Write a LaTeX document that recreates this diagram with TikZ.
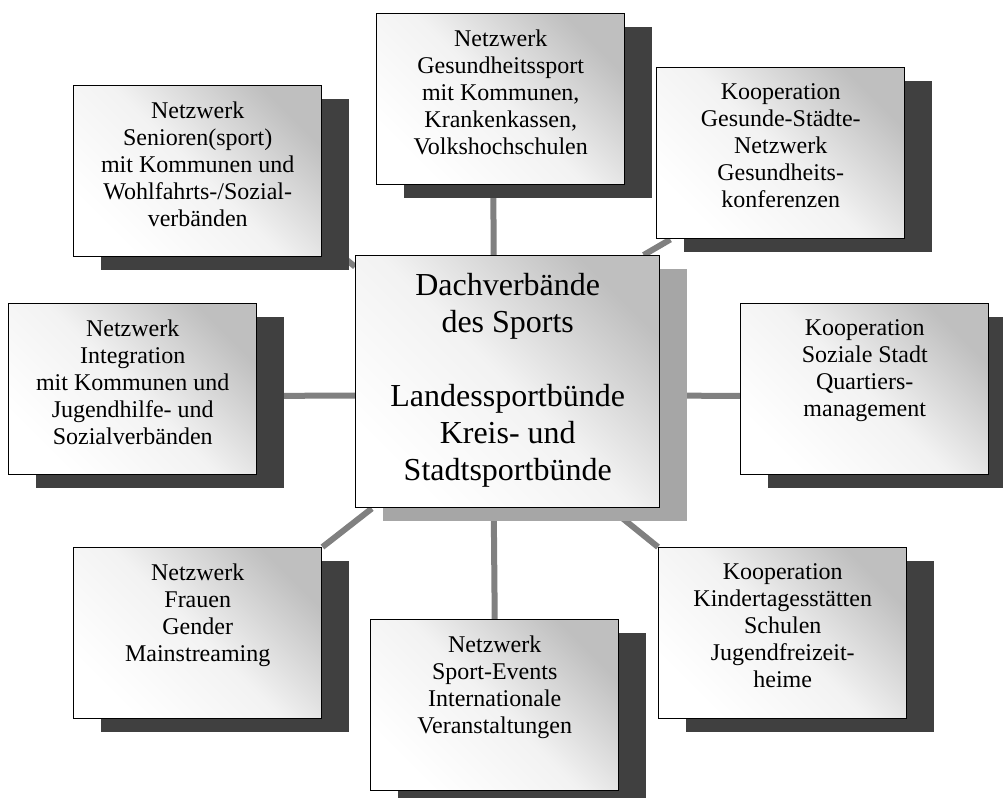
\documentclass[tikz,border=0pt]{standalone}
\usepackage{fontspec}
\setmainfont{Liberation Serif}
\usetikzlibrary{shadows,backgrounds}
\newcommand{\boxlines}[1]{\parbox[c][128.25pt][t]{186pt}{\centering\vspace*{12pt}#1}}
\newcommand{\hublines}[1]{\parbox[c][189pt][t]{228pt}{\centering\vspace*{13pt}#1}}
\begin{document}
\begin{tikzpicture}[x=0.75pt,y=-0.75pt,
  netbox/.style={draw,line width=1.1pt,inner sep=0pt,anchor=north west,
    top color=black!25,bottom color=white,middle color=black!5,shading angle=-45,
    font=\fontsize{18}{20.25}\selectfont,
    drop shadow={shadow xshift=20.25pt,shadow yshift=-9.75pt,fill=black!75,opacity=1}},
  hubbox/.style={netbox,font=\fontsize{24}{27.75}\selectfont,
    drop shadow={shadow xshift=20.25pt,shadow yshift=-9.75pt,fill=black!35,opacity=1}},
  link/.style={line width=4.5pt,black!50}]
\useasboundingbox (0,0) rectangle (1003,798);
\node[hubbox] (hub) at (355,255) {\hublines{Dachverbände\\des Sports\\[27.75pt]Landessportbünde\\Kreis- und\\Stadtsportbünde}};
\node[netbox] (seniors) at (73,85) {\boxlines{Netzwerk\\Senioren(sport)\\mit Kommunen und\\Wohlfahrts-/Sozial-\\verbänden}};
\node[netbox] (health) at (376,13) {\boxlines{Netzwerk\\Gesundheitssport\\mit Kommunen,\\Krankenkassen,\\Volkshochschulen}};
\node[netbox] (city) at (656,67) {\boxlines{Kooperation\\Gesunde-Städte-\\Netzwerk\\Gesundheits-\\konferenzen}};
\node[netbox] (integ) at (8,303) {\boxlines{Netzwerk\\Integration\\mit Kommunen und\\Jugendhilfe- und\\Sozialverbänden}};
\node[netbox] (social) at (740,303) {\boxlines{Kooperation\\Soziale Stadt\\Quartiers-\\management}};
\node[netbox] (women) at (73,547) {\boxlines{Netzwerk\\Frauen\\Gender\\Mainstreaming}};
\node[netbox] (events) at (370,619) {\boxlines{Netzwerk\\Sport-Events\\Internationale\\Veranstaltungen}};
\node[netbox] (kita) at (658,547) {\boxlines{Kooperation\\Kindertagesstätten\\Schulen\\Jugendfreizeit-\\heime}};
\begin{scope}[on background layer]
\draw[link] (hub.143.4) -- (seniors.331.6);
\draw[link] ([xshift=-10.5pt]hub.north) -- ([xshift=-5.6pt]health.south);
\draw[link] (hub.43) -- (city.218);
\draw[link] ([yshift=-10.5pt]hub.west) -- ([yshift=-4.9pt]integ.east);
\draw[link] ([yshift=-10.5pt]hub.east) -- ([yshift=-4.9pt]social.west);
\draw[link] (hub.223) -- (women.north east);
\draw[link] ([xshift=-10.5pt]hub.south) -- (events.north);
\draw[link] (hub.309.5) -- (kita.north west);
\end{scope}
\end{tikzpicture}
\end{document}
